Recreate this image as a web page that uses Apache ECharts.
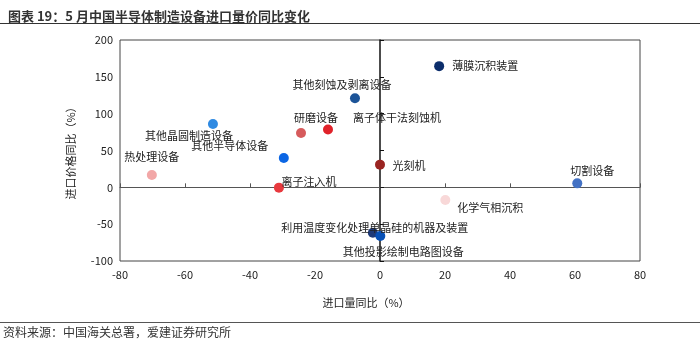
<!DOCTYPE html>
<html>
<head>
<meta charset="utf-8">
<title>5 月中国半导体制造设备进口量价同比变化</title>
<script src="https://cdn.jsdelivr.net/npm/echarts@6/dist/echarts.min.js"></script>
<style>
  html, body { margin: 0; padding: 0; background: #fff; }
  #chart { width: 700px; height: 344px; }
</style>
</head>
<body>
<div id="chart"></div>
<script>
// Equipment categories and their year-on-year changes (%)
const names = [
  '薄膜沉积装置',
  '其他刻蚀及剥离设备',
  '离子体干法刻蚀机',
  '研磨设备',
  '其他晶圆制造设备',
  '其他半导体设备',
  '热处理设备',
  '离子注入机',
  '光刻机',
  '切割设备',
  '化学气相沉积',
  '利用温度变化处理单晶硅的机器及装置',
  '其他投影绘制电路图设备'
];
const volumeYoY = [18.2, -7.7, -16.0, -24.3, -51.4, -29.6, -70.2, -31.1, 0.0, 60.7, 20.1, -2.2, 0.1];
const priceYoY  = [164.5, 121.0, 78.4, 73.8, 86.0, 39.8, 16.7, -0.4, 30.8, 5.4, -17.2, -61.6, -66.0];

// Axis tick values
const xTicks = [-80, -60, -40, -20, 0, 20, 40, 60, 80];
const yTicks = [-100, -50, 0, 50, 100, 150, 200];

// Marker colours, one per category
const pointColors = [
  '#0c2d6b', '#1c5498', '#e0222a', '#d65b5c', '#2f8ae2', '#0b66e4', '#f2a7a7',
  '#e8393e', '#9a2421', '#4472c4', '#f8d8d8', '#1e3a78', '#0750b6'
];
// Label placement around each marker [dx, dy]
const labelOffsets = [
  [46, 0], [-13, -13], [69, -12], [15, -15], [-24, 12], [-54, -12], [0, -18],
  [30, -6], [29, 1], [15, -13], [45, 8], [2, -5], [23, 16]
];

const FONT = '"Noto Sans CJK SC", "Noto Sans", sans-serif';

const points = names.map((n, i) => ({
  name: n,
  value: [volumeYoY[i], priceYoY[i]],
  itemStyle: { color: pointColors[i], opacity: 1 }
}));

const gridBox = { left: 120, right: 60, top: 40, bottom: 83 };

const chart = echarts.init(document.getElementById('chart'), null, { renderer: 'canvas' });
chart.setOption({
  animation: false,
  backgroundColor: '#fff',
  title: {
    text: '图表 19：5 月中国半导体制造设备进口量价同比变化',
    left: 3, top: 5,
    textStyle: { fontFamily: FONT, fontSize: 13, fontWeight: 'bold', color: '#333' }
  },
  graphic: [
    { type: 'line', shape: { x1: 0, y1: 23.5, x2: 700, y2: 23.5 }, style: { stroke: '#333', lineWidth: 1.2 } },
    { type: 'line', shape: { x1: 0, y1: 322.5, x2: 700, y2: 322.5 }, style: { stroke: '#555', lineWidth: 1 } },
    { type: 'text', left: 3, top: 326,
      style: { text: '资料来源：中国海关总署，爱建证券研究所', fontFamily: FONT, fontSize: 12, fill: '#333' } }
  ],
  grid: [
    Object.assign({ show: true, borderColor: '#444', borderWidth: 1, backgroundColor: 'transparent' }, gridBox),
    Object.assign({ show: false }, gridBox)
  ],
  xAxis: [
    {
      type: 'value', gridIndex: 0,
      min: xTicks[0], max: xTicks[xTicks.length - 1], interval: xTicks[1] - xTicks[0],
      axisLine: { show: false, onZero: false },
      axisTick: { show: false },
      splitLine: { show: false },
      axisLabel: { color: '#222', fontFamily: FONT, fontSize: 11, margin: 8 },
      name: '进口量同比（%）',
      nameLocation: 'middle', nameGap: 36,
      nameTextStyle: { color: '#222', fontFamily: FONT, fontSize: 11, padding: [0, 28, 0, 0] }
    },
    {
      type: 'value', gridIndex: 1,
      min: xTicks[0], max: xTicks[xTicks.length - 1], interval: xTicks[1] - xTicks[0],
      axisLine: { show: true, onZero: true, lineStyle: { color: '#555', width: 1 } },
      axisTick: { show: true, inside: true, length: 4, lineStyle: { color: '#555' } },
      axisLabel: { show: false },
      splitLine: { show: false }
    }
  ],
  yAxis: [
    {
      type: 'value', gridIndex: 0,
      min: yTicks[0], max: yTicks[yTicks.length - 1], interval: yTicks[1] - yTicks[0],
      axisLine: { show: false, onZero: false },
      axisTick: { show: false },
      splitLine: { show: false },
      axisLabel: { color: '#222', fontFamily: FONT, fontSize: 11, margin: 7 },
      name: '进口价格同比（%）',
      nameLocation: 'middle', nameGap: 44,
      nameTextStyle: { color: '#222', fontFamily: FONT, fontSize: 11 }
    },
    {
      type: 'value', gridIndex: 1,
      min: yTicks[0], max: yTicks[yTicks.length - 1], interval: yTicks[1] - yTicks[0],
      axisLine: { show: true, onZero: true, lineStyle: { color: '#111', width: 1.5 } },
      axisTick: { show: true, inside: true, length: 4, lineStyle: { color: '#111' } },
      axisLabel: { show: false },
      splitLine: { show: false }
    }
  ],
  series: [
    {
      type: 'scatter',
      xAxisIndex: 0, yAxisIndex: 0,
      symbolSize: 10,
      data: points,
      z: 3,
      label: {
        show: true,
        position: 'inside',
        formatter: '{b}',
        color: '#222',
        fontFamily: FONT,
        fontSize: 11
      },
      labelLayout: function (params) {
        const off = labelOffsets[params.dataIndex];
        return { dx: off[0], dy: off[1], hideOverlap: false };
      }
    }
  ]
});
</script>
</body>
</html>
